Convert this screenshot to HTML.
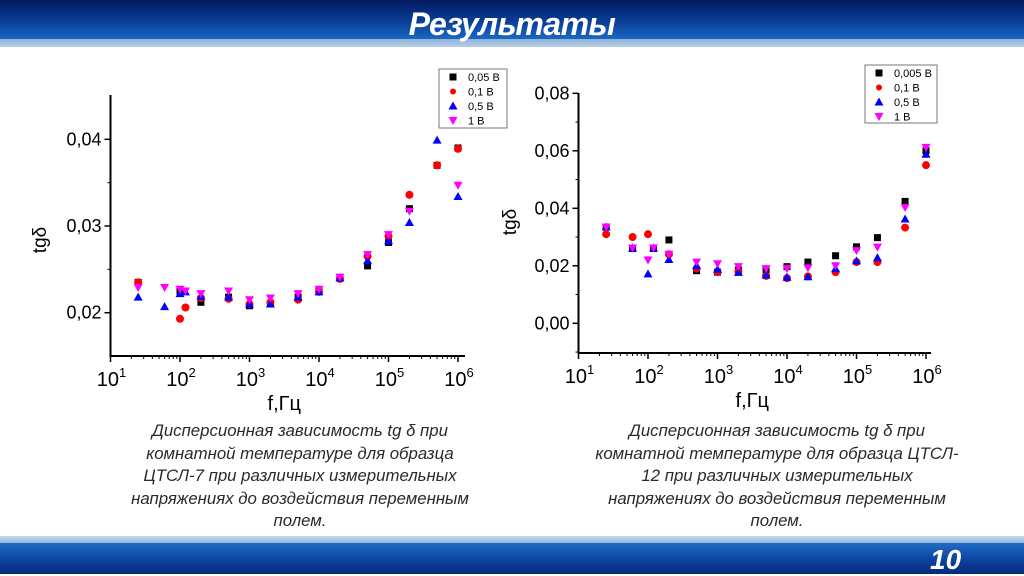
<!DOCTYPE html>
<html><head><meta charset="utf-8"><style>
html,body{margin:0;padding:0;width:1024px;height:574px;overflow:hidden;background:#fff;font-family:"Liberation Sans",sans-serif}
#hdr{position:absolute;left:0;top:0;width:1024px;height:40px;background:linear-gradient(180deg,#031a5e 0%,#0a3f98 55%,#1a6ac4 100%)}
#hb{position:absolute;left:0;top:39px;width:1024px;height:8px;background:linear-gradient(180deg,#8fb2d8,#b7cde6)}
#title{position:absolute;left:0;top:6px;width:1024px;text-align:center;color:#fff;font-style:italic;font-weight:bold;font-size:32px;letter-spacing:-0.5px}
#fb{position:absolute;left:0;top:536px;width:1024px;height:8px;background:linear-gradient(180deg,#c7d8ea,#8fb2d8)}
#ftr{position:absolute;left:0;top:543px;width:1024px;height:31px;background:linear-gradient(180deg,#1f6cc6,#0b3f9c 60%,#062a78)}
#num{position:absolute;left:930px;top:544px;color:#fff;font-style:italic;font-weight:bold;font-size:28px}
.cap{position:absolute;width:420px;text-align:center;font-style:italic;font-size:16.8px;line-height:22.6px;color:#2a2a2a;font-family:"Liberation Sans","DejaVu Sans",sans-serif;white-space:nowrap}
svg{position:absolute;left:0;top:0}
</style></head><body>
<div id="hdr"></div><div id="hb"></div>
<div id="title">Результаты</div>
<div id="fb"></div><div id="ftr"></div><div id="num">10</div>
<div class="cap" style="left:90px;top:420px">Дисперсионная зависимость tg δ при<br>комнатной температуре для образца<br>ЦТСЛ-7 при различных измерительных<br>напряжениях до воздействия переменным<br>полем.</div>
<div class="cap" style="left:567px;top:420px">Дисперсионная зависимость tg δ при<br>комнатной температуре для образца ЦТСЛ-<br>12 при различных измерительных<br>напряжениях до воздействия переменным<br>полем.</div>
<svg id="s" width="1024" height="574" xmlns="http://www.w3.org/2000/svg"></svg>
<script>
var s='';
var F=[25,60,100,120,200,500,1e3,2e3,5e3,1e4,2e4,5e4,1e5,2e5,5e5,1e6];
function mk(t,x,y){
 if(t==0)return '<rect x="'+(x-3.5)+'" y="'+(y-3.5)+'" width="7" height="7" fill="#000"/>';
 if(t==1)return '<circle cx="'+x+'" cy="'+y+'" r="4" fill="#f00"/>';
 if(t==2)return '<polygon points="'+x+','+(y-4.5)+' '+(x-4.5)+','+(y+3.5)+' '+(x+4.5)+','+(y+3.5)+'" fill="#00f"/>';
 return '<polygon points="'+x+','+(y+4.5)+' '+(x-4.5)+','+(y-3.5)+' '+(x+4.5)+','+(y-3.5)+'" fill="#f0f"/>';
}
function chart(c){
 var X=function(f){return c.x0+(Math.log10(f)-1)*c.dec};
 var Y=function(v){return c.yref-(v-c.vref)*c.ppu};
 s+='<line x1="'+c.x0+'" y1="'+c.yt+'" x2="'+c.x0+'" y2="'+c.yb+'" stroke="#000" stroke-width="2"/>';
 s+='<line x1="'+(c.x0-1)+'" y1="'+c.yb+'" x2="'+c.xr+'" y2="'+c.yb+'" stroke="#000" stroke-width="2"/>';
 for(var e=1;e<=6;e++){var x=X(Math.pow(10,e));
  s+='<line x1="'+x+'" y1="'+c.yb+'" x2="'+x+'" y2="'+(c.yb+6)+'" stroke="#000" stroke-width="1.5"/>';
  s+='<text x="'+(x+1)+'" y="'+(c.yb+30)+'" font-size="20" text-anchor="middle">10<tspan font-size="13" dy="-9">'+e+'</tspan></text>';
  if(e<6)for(var k=2;k<10;k++){var xm=X(k*Math.pow(10,e));s+='<line x1="'+xm+'" y1="'+c.yb+'" x2="'+xm+'" y2="'+(c.yb+3)+'" stroke="#000" stroke-width="1"/>';}
 }
 c.yt_ticks.forEach(function(v){var y=Y(v);
  s+='<line x1="'+(c.x0-6)+'" y1="'+y+'" x2="'+c.x0+'" y2="'+y+'" stroke="#000" stroke-width="1.5"/>';
  s+='<text x="'+(c.x0-9)+'" y="'+(y+6)+'" font-size="18" text-anchor="end">'+v.toFixed(2).replace('.',',')+'</text>';});
 c.minor.forEach(function(v){var y=Y(v);s+='<line x1="'+(c.x0-3)+'" y1="'+y+'" x2="'+c.x0+'" y2="'+y+'" stroke="#000" stroke-width="1"/>';});
 s+='<text transform="translate('+c.lx+','+c.ly+') rotate(-90)" font-size="19" text-anchor="middle">tgδ</text>';
 s+='<text x="'+((X(10)+X(1e6))/2)+'" y="'+(c.yb+54)+'" font-size="20" text-anchor="middle">f,Гц</text>';
 for(var t=0;t<4;t++)c.d[t].forEach(function(v,i){if(v!=null)s+=mk(t,X(F[i]),Y(v));});
 var L=c.leg;
 s+='<rect x="'+L[0]+'" y="'+L[1]+'" width="'+L[2]+'" height="'+L[3]+'" fill="#fff" stroke="#777" stroke-width="1"/>';
 for(var t=0;t<4;t++){var yy=L[1]+8+t*14.5;
  s+=mk(t,L[0]+14,yy).replace(/r="4"/,'r="3"');
  s+='<text x="'+(L[0]+29)+'" y="'+(yy+4)+'" font-size="11">'+c.names[t]+'</text>';}
}
chart({x0:110.5,dec:69.5,yt:95,yb:356,xr:465,yref:312.7,vref:0.02,ppu:8670,
 yt_ticks:[0.02,0.03,0.04],minor:[0.025,0.035],lx:46,ly:240,leg:[439,69,68,59],
 names:['0,05 В','0,1 В','0,5 В','1 В'],
 d:[[0.0235,null,0.0225,null,0.0212,0.0218,0.0208,0.021,0.0218,0.0225,0.024,0.0254,0.0281,0.032,0.037,0.039],
 [0.0235,null,0.0193,0.0206,0.0217,0.0216,0.021,0.0212,0.0215,0.0224,0.0239,0.0265,0.0288,0.0336,0.037,0.0389],
 [0.0218,0.0207,0.0222,0.0224,0.0219,0.0218,0.021,0.021,0.0218,0.0224,0.024,0.026,0.0283,0.0304,0.0399,0.0334],
 [0.0229,0.0229,0.0227,0.0225,0.0222,0.0225,0.0215,0.0217,0.0222,0.0227,0.0241,0.0267,0.029,0.0317,null,0.0347]]});
chart({x0:578.5,dec:69.5,yt:93,yb:353,xr:931,yref:323.3,vref:0,ppu:2875,
 yt_ticks:[0,0.02,0.04,0.06,0.08],minor:[0.01,0.03,0.05,0.07,-0.01],lx:516,ly:222,leg:[865,65,72,58],
 names:['0,005 В','0,1 В','0,5 В','1 В'],
 d:[[0.0335,0.026,null,0.026,0.029,0.0183,0.0178,0.0185,0.0185,0.0197,0.0213,0.0235,0.0266,0.0298,0.0424,0.06],
 [0.031,0.03,0.031,null,0.024,0.019,0.0178,0.018,0.0165,0.0157,0.0163,0.0178,0.0213,0.0213,0.0333,0.055],
 [0.0335,0.0262,0.0172,0.0262,0.0222,0.02,0.0188,0.0177,0.0168,0.016,0.0162,0.019,0.0217,0.0228,0.0363,0.0588],
 [0.0335,0.0262,0.022,0.0262,0.024,0.0213,0.0207,0.0197,0.019,0.019,0.0193,0.02,0.0253,0.0265,0.0403,0.0612]]});
document.getElementById('s').innerHTML=s;
</script>
</body></html>
